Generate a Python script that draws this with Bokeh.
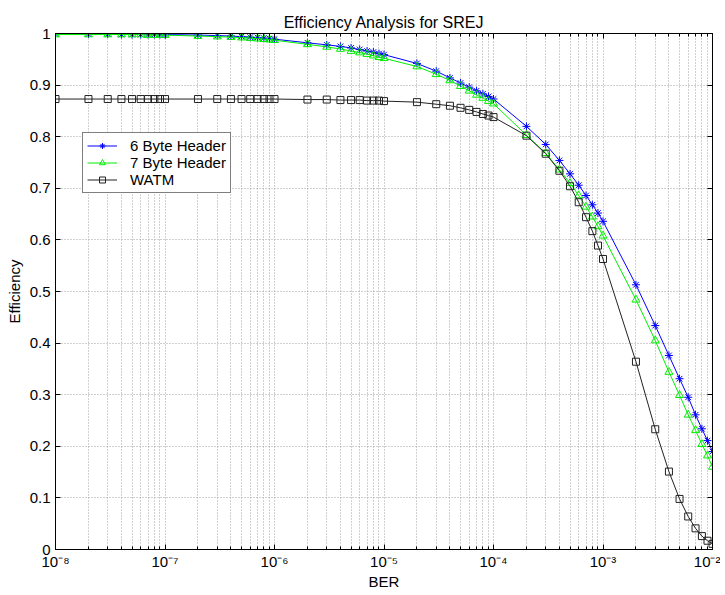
from bokeh.plotting import figure
from bokeh.models import (FixedTicker, CustomJSTickFormatter, LogAxis, LinearAxis,
                          Legend, LegendItem)
from bokeh.embed import file_html
from bokeh.resources import INLINE

# ---------------- data ----------------
ber = [1e-8, 2e-8, 3e-8, 4e-8, 5e-8, 6e-8, 7e-8, 8e-8, 9e-8,
       1e-7, 2e-7, 3e-7, 4e-7, 5e-7, 6e-7, 7e-7, 8e-7, 9e-7,
       1e-6, 2e-6, 3e-6, 4e-6, 5e-6, 6e-6, 7e-6, 8e-6, 9e-6,
       1e-5, 2e-5, 3e-5, 4e-5, 5e-5, 6e-5, 7e-5, 8e-5, 9e-5,
       1e-4, 2e-4, 3e-4, 4e-4, 5e-4, 6e-4, 7e-4, 8e-4, 9e-4,
       1e-3, 2e-3, 3e-3, 4e-3, 5e-3, 6e-3, 7e-3, 8e-3, 9e-3,
       1e-2]

eff_6byte = [0.999, 0.999, 0.999, 0.998, 0.998, 0.998, 0.998, 0.998, 0.998,
             0.998, 0.997, 0.996, 0.995, 0.994, 0.993, 0.992, 0.991, 0.990,
             0.989, 0.982, 0.978, 0.975, 0.972, 0.969, 0.966, 0.964, 0.961,
             0.959, 0.942, 0.927, 0.914, 0.904, 0.896, 0.889, 0.883, 0.878,
             0.873, 0.820, 0.785, 0.754, 0.728, 0.706, 0.686, 0.668, 0.652,
             0.636, 0.513, 0.434, 0.376, 0.331, 0.295, 0.261, 0.234, 0.211,
             0.190]

eff_7byte = [0.998, 0.998, 0.998, 0.998, 0.998, 0.998, 0.997, 0.997, 0.997,
             0.997, 0.995, 0.994, 0.993, 0.992, 0.991, 0.990, 0.989, 0.988,
             0.987, 0.979, 0.974, 0.970, 0.966, 0.963, 0.960, 0.957, 0.954,
             0.952, 0.936, 0.921, 0.909, 0.898, 0.889, 0.881, 0.875, 0.869,
             0.864, 0.803, 0.768, 0.736, 0.710, 0.686, 0.664, 0.645, 0.626,
             0.608, 0.484, 0.405, 0.344, 0.299, 0.261, 0.231, 0.204, 0.182,
             0.160]

eff_watm = [0.873, 0.873, 0.873, 0.873, 0.873, 0.873, 0.873, 0.873, 0.873,
            0.873, 0.873, 0.873, 0.873, 0.873, 0.873, 0.873, 0.873, 0.873,
            0.873, 0.872, 0.872, 0.871, 0.871, 0.871, 0.870, 0.870, 0.870,
            0.869, 0.867, 0.863, 0.860, 0.856, 0.852, 0.848, 0.844, 0.841,
            0.838, 0.802, 0.767, 0.734, 0.704, 0.673, 0.644, 0.617, 0.589,
            0.563, 0.364, 0.233, 0.151, 0.098, 0.064, 0.041, 0.026, 0.017,
            0.011]

x_major_ticks = [1e-8, 1e-7, 1e-6, 1e-5, 1e-4, 1e-3, 1e-2]
x_minor_ticks = [m * d for d in [1e-8, 1e-7, 1e-6, 1e-5, 1e-4, 1e-3] for m in range(2, 10)]
y_ticks = [0, 0.1, 0.2, 0.3, 0.4, 0.5, 0.6, 0.7, 0.8, 0.9, 1.0]

series_names = ["6 Byte Header", "7 Byte Header", "WATM"]

FONT = "Liberation Sans"
FS = "15px"

p = figure(width=720, height=592, x_axis_type="log",
           x_range=(1e-8, 1e-2), y_range=(0, 1),
           output_backend="svg", toolbar_location=None,
           min_border_left=55, min_border_right=8,
           min_border_top=33, min_border_bottom=39,
           background_fill_color="white", border_fill_color="white")

p.title.text = "Efficiency Analysis for SREJ"
p.title.align = "center"
p.title.text_font = FONT
p.title.text_font_size = "16px"
p.title.text_font_style = "normal"
p.title.text_color = "black"
p.title.standoff = 6

p.outline_line_color = "black"
p.outline_line_width = 1

xticker = FixedTicker(ticks=x_major_ticks, minor_ticks=x_minor_ticks)
yticker = FixedTicker(ticks=y_ticks)

xfmt = CustomJSTickFormatter(code="""
const sup = {'-':'\u207b','0':'\u2070','1':'\u00b9','2':'\u00b2','3':'\u00b3','4':'\u2074','5':'\u2075','6':'\u2076','7':'\u2077','8':'\u2078','9':'\u2079'};
const e = Math.round(Math.log10(tick));
return '10' + String(e).split('').map(c => sup[c]).join('');
""")
yfmt = CustomJSTickFormatter(code="return (Math.round(tick*10)/10).toString();")

for ax in p.xaxis:
    ax.ticker = xticker
    ax.formatter = xfmt
for ax in p.yaxis:
    ax.ticker = yticker
    ax.formatter = yfmt

for ax in list(p.xaxis) + list(p.yaxis):
    ax.axis_line_color = "black"
    ax.major_tick_in = 5
    ax.major_tick_out = 0
    ax.minor_tick_in = 3
    ax.minor_tick_out = 0
    ax.major_tick_line_color = "black"
    ax.minor_tick_line_color = "black"
    ax.major_label_text_font = FONT
    ax.major_label_text_font_size = FS
    ax.major_label_text_color = "black"
    ax.axis_label_text_font = FONT
    ax.axis_label_text_font_size = FS
    ax.axis_label_text_font_style = "normal"
    ax.axis_label_text_color = "black"

p.yaxis.minor_tick_line_color = None
p.xaxis.axis_label = "BER"
p.yaxis.axis_label = "Efficiency"
p.xaxis.major_label_standoff = 3
p.xaxis.axis_label_standoff = 0
p.yaxis.major_label_standoff = 5
p.yaxis.axis_label_standoff = 4

# top / right boxed ticks (labels hidden)
top_ax = LogAxis(ticker=xticker, major_label_text_color=None,
                 major_label_text_font_size="2px",
                 major_tick_in=5, major_tick_out=0, minor_tick_in=3, minor_tick_out=0,
                 axis_line_color="black", major_label_standoff=0)
right_ax = LinearAxis(ticker=yticker, major_label_text_color=None,
                      major_label_text_font_size="2px",
                      major_tick_in=5, major_tick_out=0, minor_tick_line_color=None,
                      axis_line_color="black", major_label_standoff=0)
p.add_layout(top_ax, "above")
p.add_layout(right_ax, "right")

for g in list(p.xgrid) + list(p.ygrid):
    g.grid_line_color = "#a0a0a0"
    g.grid_line_dash = "1 2"
    g.grid_line_width = 1
p.xgrid.ticker = xticker
p.ygrid.ticker = yticker
p.xgrid.minor_grid_line_color = "#a0a0a0"
p.xgrid.minor_grid_line_dash = "1 2"

# series
l1 = p.line(ber, eff_6byte, line_color="#0000ff", line_width=1)
m1 = p.scatter(ber, eff_6byte, marker="asterisk", size=8, line_color="#0000ff", line_width=1)
l2 = p.line(ber, eff_7byte, line_color="#00ee00", line_width=1)
m2 = p.scatter(ber, eff_7byte, marker="triangle", size=8, line_color="#00ee00",
               fill_color=None, line_width=1)
l3 = p.line(ber, eff_watm, line_color="#222222", line_width=1)
m3 = p.scatter(ber, eff_watm, marker="square", size=7, line_color="#222222",
               fill_color=None, line_width=1)

legend = Legend(items=[LegendItem(label=series_names[0], renderers=[l1, m1]),
                       LegendItem(label=series_names[1], renderers=[l2, m2]),
                       LegendItem(label=series_names[2], renderers=[l3, m3])],
                location=(27, 356))
legend.border_line_color = "black"
legend.border_line_width = 1
legend.background_fill_color = "white"
legend.background_fill_alpha = 1
legend.label_text_font = FONT
legend.label_text_font_size = FS
legend.label_text_color = "black"
legend.glyph_width = 30
legend.glyph_height = 15
legend.label_height = 15
legend.spacing = 0
legend.padding = 4
legend.margin = 0
legend.label_standoff = 13
p.add_layout(legend, "center")

open("out.html", "w").write(file_html(p, INLINE))
